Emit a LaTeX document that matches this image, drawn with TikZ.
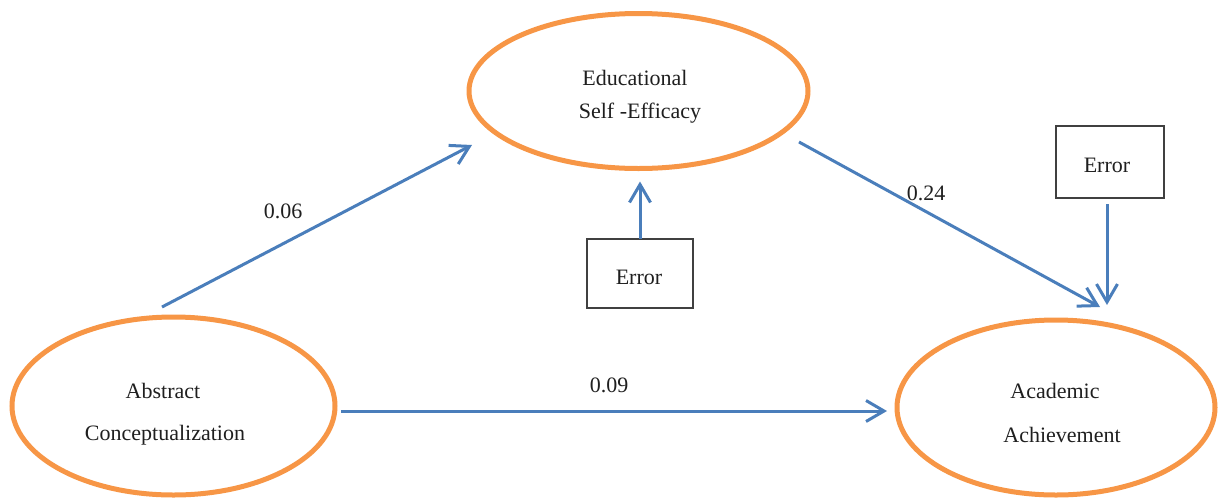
\documentclass[tikz,border=0pt]{standalone}
\usepackage{fontspec}
\setmainfont{Liberation Serif}
\usetikzlibrary{arrows.meta,shapes.geometric,calc}
\definecolor{ora}{HTML}{F79646}
\definecolor{blu}{HTML}{4A7EBB}
\definecolor{boxc}{HTML}{404040}
\tikzset{
  latent/.style={ellipse, draw=ora, line width=5pt, inner sep=0pt, outer sep=0pt},
  errbox/.style={rectangle, draw=boxc, line width=1.4pt, inner sep=0pt, outer sep=0pt, fill=white},
  lbl/.style={inner sep=0pt, font=\fontsize{22}{26}\selectfont, text=black!88},
  arr/.style={draw=blu, line width=3pt, -{Straight Barb[length=18pt,width=21pt,line width=3pt]}}
}
\begin{document}
\begin{tikzpicture}[x=1pt,y=-1pt]
\useasboundingbox (0,0) rectangle (1219,499);
% latent variables
\node[latent, minimum width=339pt, minimum height=155pt] (edu) at (638.5,91) {};
\node[latent, minimum width=323pt, minimum height=178pt] (abs) at (173.5,406) {};
\node[latent, minimum width=318pt, minimum height=175pt] (acad) at (1056,407.5) {};
% texts
\node[lbl] (edu1) at (635,78) {Educational};
\node[lbl] (edu2) at (640,113) {Self -Efficacy};
\node[lbl] (abs1) at (163,391) {Abstract};
\node[lbl] (abs2) at (165,435) {Conceptualization};
\node[lbl] (acad1) at (1055,391) {Academic};
\node[lbl] (acad2) at (1062,435) {Achievement};
% error boxes
\node[errbox, minimum width=106pt, minimum height=69pt] (err1) at (640,273.5) {};
\node[lbl] (err1t) at (639,277) {Error};
\node[errbox, minimum width=108pt, minimum height=72pt] (err2) at (1110,162) {};
\node[lbl] (err2t) at (1107,165) {Error};
% paths
\draw[arr] ([shift={(-11.5,-10)}]abs.north) -- ([shift={(3,54)}]edu.west);
\draw[arr, shorten >=13pt] (err1.north) -- (err1.north |- edu.south);
\draw[arr] ([shift={(-9,51)}]edu.east) -- ([shift={(44,-13)}]acad.north);
\draw[arr, shorten <=6pt, shorten >=15pt] ([xshift=-3pt]err2.south) -- ([xshift=-3pt]err2.south |- acad.north);
\draw[arr, shorten <=6pt, shorten >=10pt] ([yshift=-5pt]abs.east) -- ([yshift=-5pt]abs.east -| acad.west);
% coefficients
\node[lbl] (c1) at (283,211) {0.06};
\node[lbl] (c2) at (926,193) {0.24};
\node[lbl] (c3) at (609,385) {0.09};
\end{tikzpicture}
\end{document}
